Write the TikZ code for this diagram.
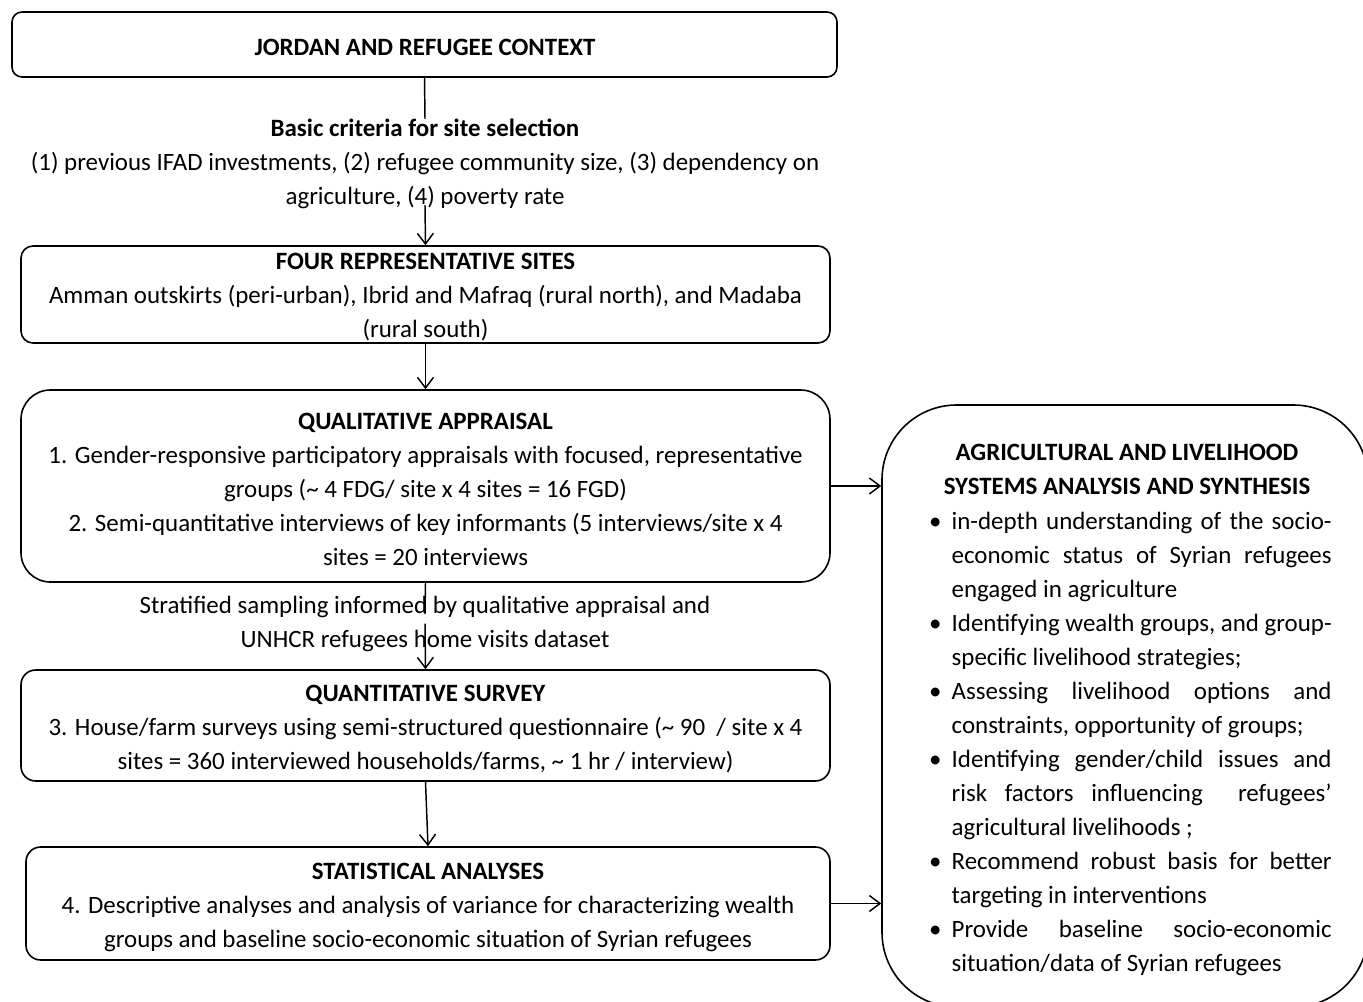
\documentclass[tikz,border=0pt]{standalone}
\usepackage{fontspec}
\setmainfont{Carlito}
\usetikzlibrary{arrows.meta}
\newcommand\fs{\fontsize{18.7pt}{25.5pt}\selectfont}
\newlength\bw \setlength\bw{285pt}
\newlength\bcol \setlength\bcol{19pt}
\newcommand\bitem[1]{\makebox[\bcol][l]{\hspace*{2pt}\textbullet}\makebox[\bw][s]{#1}}
\newcommand\bcont[1]{\hspace*{\bcol}\makebox[\bw][s]{#1}}
\newcommand\blast[1]{\hspace*{\bcol}\makebox[\bw][l]{#1}}
\begin{document}
\begin{tikzpicture}[x=0.75pt,y=-0.75pt,
  frame/.style={draw,line width=1.2pt,inner sep=0pt},
  lbl/.style={align=center,font=\fs,inner sep=0pt},
  arr/.style={line width=1.1pt,-{Straight Barb[length=8pt,width=12pt,line width=1.1pt]}},
  ln/.style={line width=1.1pt}]
\useasboundingbox (0,0) rectangle (1363,1002);
\clip (0,0) rectangle (1363,1002);

% boxes
\node[frame,rounded corners=7.5pt,minimum width=618.75pt,minimum height=48.75pt] (b1) at (424.5,44.5) {};
\node[frame,rounded corners=9pt,minimum width=606.75pt,minimum height=72.75pt] (b2) at (425.5,294.5) {};
\node[frame,rounded corners=22pt,minimum width=606.75pt,minimum height=144pt] (b3) at (425.5,486) {};
\node[frame,rounded corners=11pt,minimum width=606.75pt,minimum height=83.25pt] (b4) at (425.5,725.5) {};
\node[frame,rounded corners=11pt,minimum width=603pt,minimum height=84.75pt] (b5) at (428,903.5) {};
\node[frame,rounded corners=56pt,minimum width=364.5pt,minimum height=451.5pt] (rb) at (1125,706) {};

% texts
\node[lbl] (t1) at (425,47.5) {\textbf{JORDAN AND REFUGEE CONTEXT}};

\node[lbl] (crit) at (425,164)
  {\textbf{Basic criteria for site selection}\\
   (1) previous IFAD investments, (2) refugee community size, (3) dependency on\\
   agriculture, (4) poverty rate};

\node[lbl] (t2) at (425.5,297.5)
  {\textbf{FOUR REPRESENTATIVE SITES}\\
   Amman outskirts (peri-urban), Ibrid and Mafraq (rural north), and Madaba\\
   (rural south)};

\node[lbl] (t3) at (425.5,489.5)
  {\textbf{QUALITATIVE APPRAISAL}\\
   1. Gender-responsive participatory appraisals with focused, representative\\
   groups (\textasciitilde\ 4 FDG/ site x 4 sites = 16 FGD)\\
   2. Semi-quantitative interviews of key informants (5 interviews/site x 4\\
   sites = 20 interviews};

\node[lbl] (strat) at (425,623.5)
  {Stratified sampling informed by qualitative appraisal and\\
   UNHCR refugees home visits dataset};

\node[lbl] (t4) at (425.5,729.5)
  {\textbf{QUANTITATIVE SURVEY}\\
   3. House/farm surveys using semi-structured questionnaire (\textasciitilde\ 90 \ / site x 4\\
   sites = 360 interviewed households/farms, \textasciitilde\ 1 hr / interview)};

\node[lbl] (t5) at (428,907)
  {\textbf{STATISTICAL ANALYSES}\\
   4. Descriptive analyses and analysis of variance for characterizing wealth\\
   groups and baseline socio-economic situation of Syrian refugees};

\node[lbl] (rtitle) at (1127,469)
  {\textbf{AGRICULTURAL AND LIVELIHOOD}\\
   \textbf{SYSTEMS ANALYSIS AND SYNTHESIS}};

\node[lbl,align=left] (rlist) at (1129,743.5)
  {\bitem{in-depth understanding of the socio-}\\
   \bcont{economic status of Syrian refugees}\\
   \blast{engaged in agriculture}\\
   \bitem{Identifying wealth groups, and group-}\\
   \blast{specific livelihood strategies;}\\
   \bitem{Assessing livelihood options and}\\
   \blast{constraints, opportunity of groups;}\\
   \bitem{Identifying gender/child issues and}\\
   \bcont{risk factors influencing \ refugees'}\\
   \blast{agricultural livelihoods ;}\\
   \bitem{Recommend robust basis for better}\\
   \blast{targeting in interventions}\\
   \bitem{Provide baseline socio-economic}\\
   \blast{situation/data of Syrian refugees}};

% connectors
\draw[ln] (b1.south) -- (crit.north);
\draw[arr] ([yshift=3pt]crit.south) -- (b2.north);
\draw[arr] (b2.south) -- (b3.north);
\draw[ln] (b3.south) -- ([yshift=-14pt]strat.north);
\draw[arr] (strat.center) -- (b4.north);
\draw[arr] (b4.south) -- (b5.north);
\draw[arr] (b3.east) -- (b3.east -| rb.west);
\draw[arr] (b5.east) -- (b5.east -| rb.west);
\end{tikzpicture}
\end{document}
